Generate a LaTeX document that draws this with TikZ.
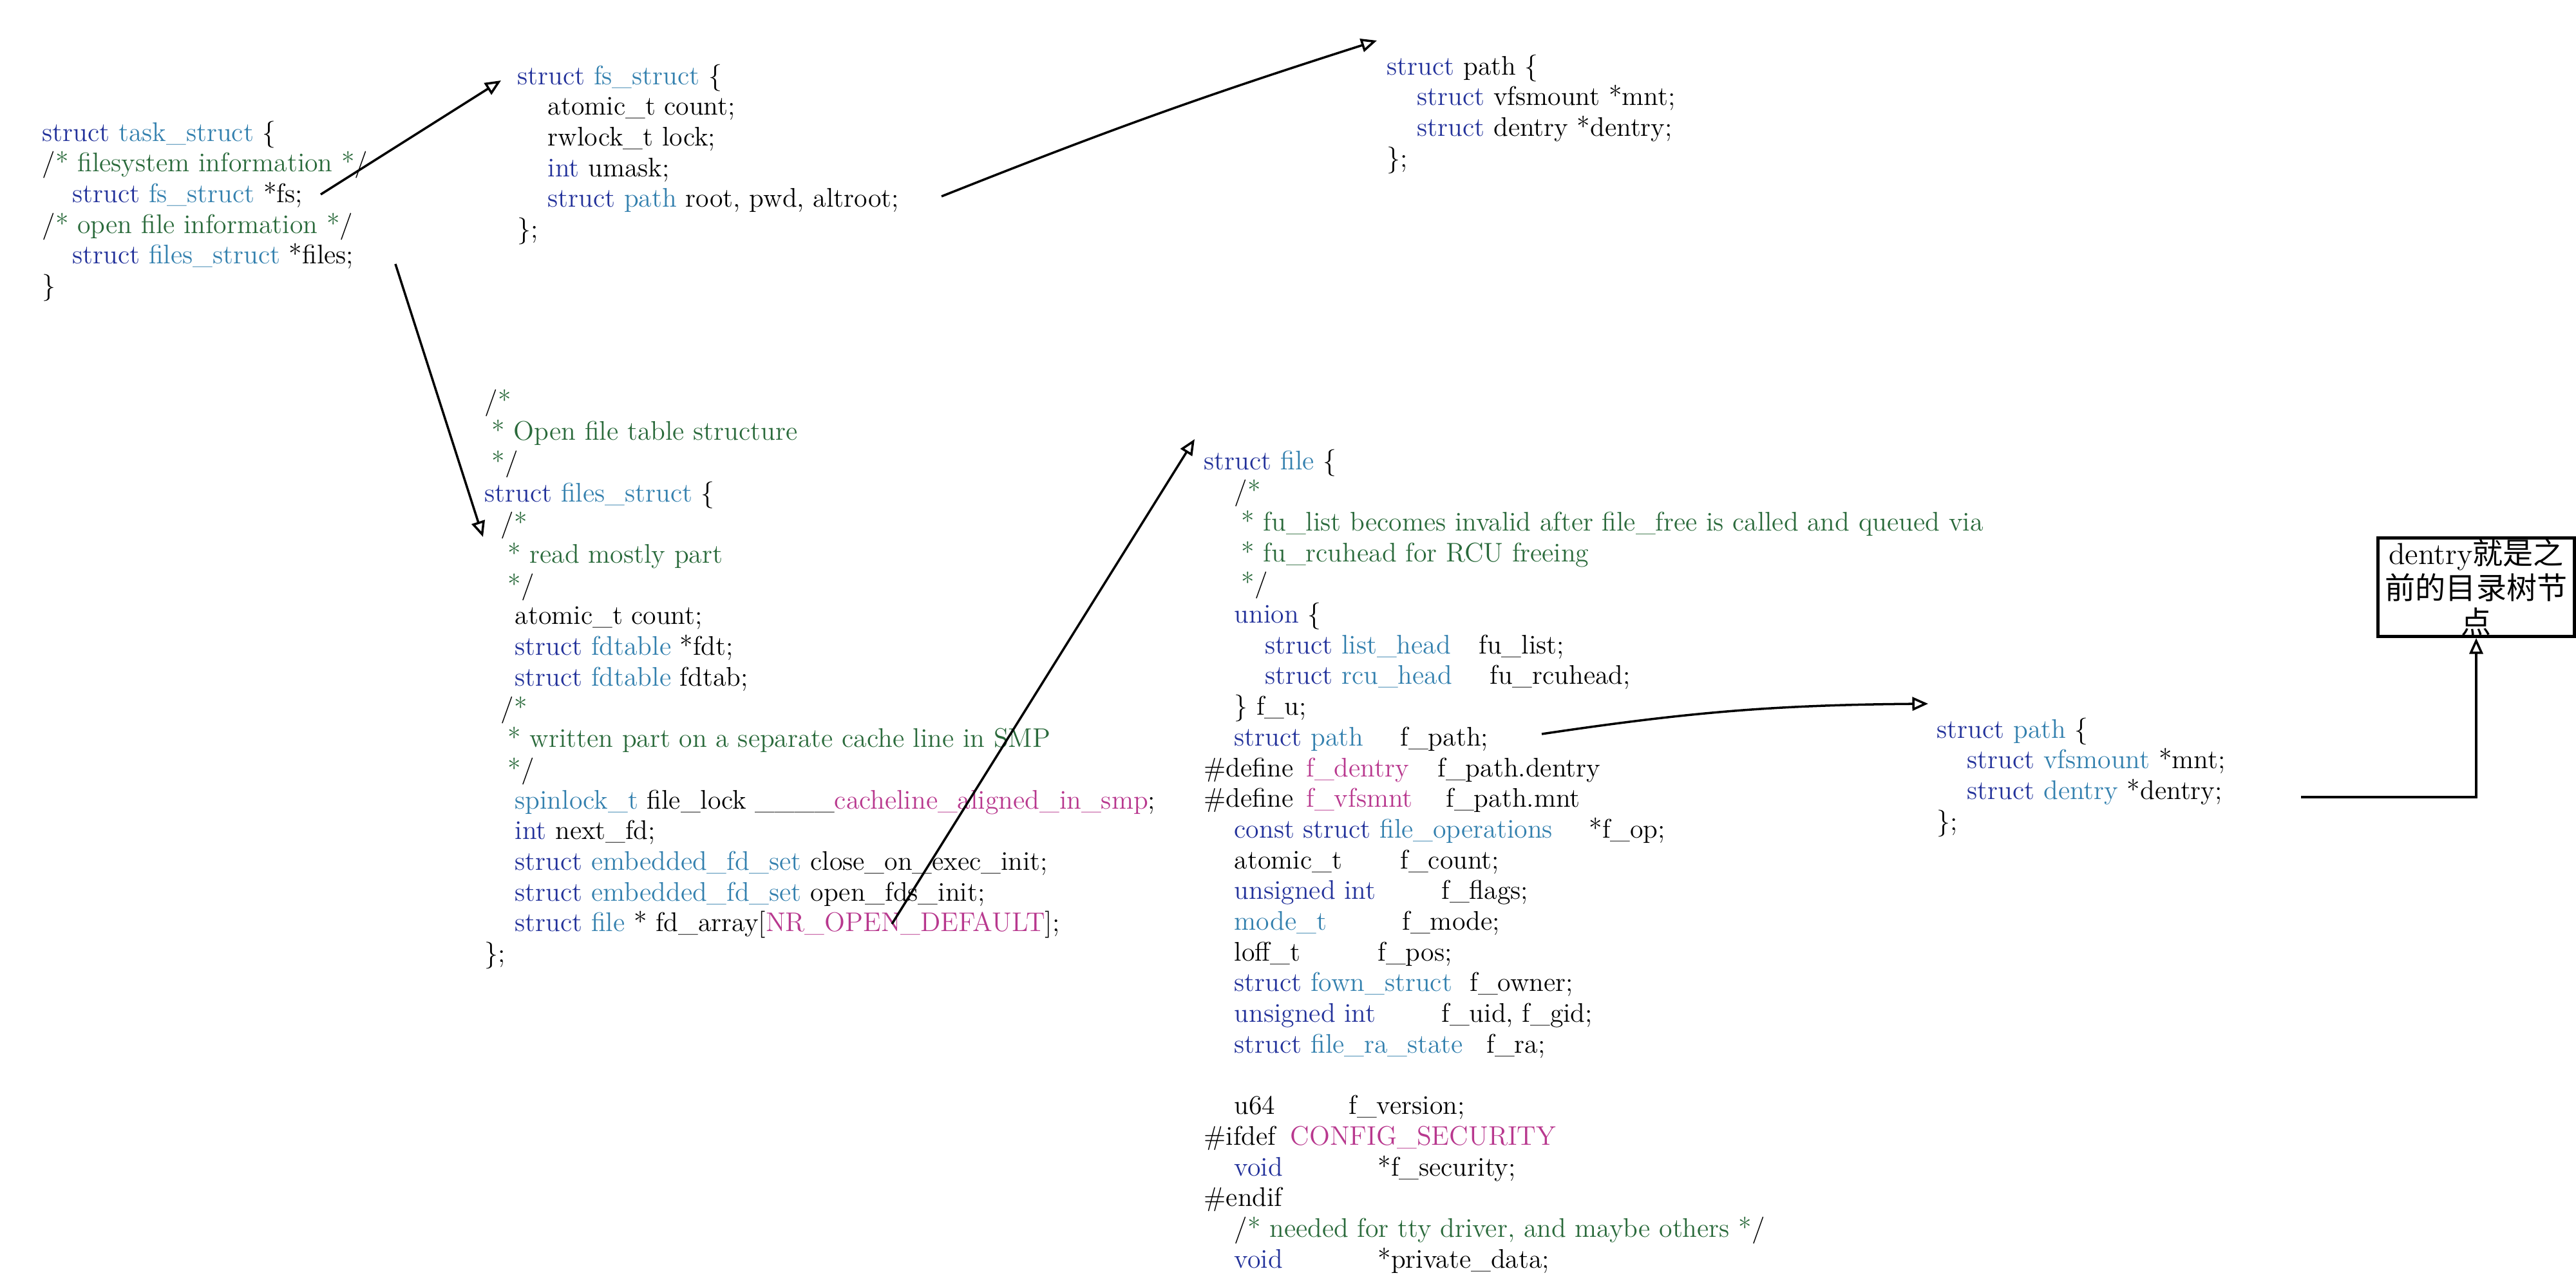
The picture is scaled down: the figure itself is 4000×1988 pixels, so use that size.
\documentclass[tikz,border=0pt]{standalone}
\usepackage{fontspec}
\usepackage{tikz}
\usetikzlibrary{arrows.meta,calc}
\newfontfamily\cjk{Noto Sans CJK SC}
\definecolor{kwblue}{HTML}{22319A}
\definecolor{tyblue}{HTML}{3380AE}
\definecolor{cmgreen}{HTML}{2A6A3B}
\definecolor{macpink}{HTML}{B8388E}
\newcommand{\ckw}[1]{\textcolor{kwblue}{#1}}
\newcommand{\cty}[1]{\textcolor{tyblue}{#1}}
\newcommand{\ccm}[1]{\textcolor{cmgreen}{#1}}
\newcommand{\cmac}[1]{\textcolor{macpink}{#1}}
\newcommand{\indA}{\hspace*{0.47cm}}
\newcommand{\indB}{\hspace*{0.95cm}}
\newcommand{\fcol}[2]{\makebox[#1][l]{#2}}

\begin{document}
\begin{tikzpicture}[x=0.1mm,y=-0.1mm,
    code/.style={anchor=north west,inner sep=0pt,align=left,font=\fontsize{11.9}{13.57}\selectfont},
    ptr/.style={-{Triangle[open,length=7pt,width=6pt]},line width=1pt},
    notebox/.style={draw,line width=1.4pt,inner sep=0pt,align=center,minimum width=3.05cm,minimum height=1.53cm,
      font=\cjk\fontsize{13.4}{15.2}\selectfont}]
    \useasboundingbox (0,0) rectangle (4000,1988);

    \node[code] (taskstruct) at (65,187) {\ckw{struct} \cty{task\_struct} \{\\
      /\ccm{* filesystem information *}/\\
      \indA\ckw{struct} \cty{fs\_struct} *fs;\\
      /\ccm{* open file information *}/\\
      \indA\ckw{struct} \cty{files\_struct} *files;\\
      \}};

    \node[code] (fsstruct) at (803,99) {\ckw{struct} \cty{fs\_struct} \{\\
      \indA atomic\_t count;\\
      \indA rwlock\_t lock;\\
      \indA\ckw{int} umask;\\
      \indA\ckw{struct} \cty{path} root, pwd, altroot;\\
      \};};

    \node[code] (pathtop) at (2153,84) {\ckw{struct} path \{\\
      \indA\ckw{struct} vfsmount *mnt;\\
      \indA\ckw{struct} dentry *dentry;\\
      \};};

    \node[code] (filesstruct) at (752,604) {/\ccm{*}\\
      \hspace*{0.11cm}\ccm{* Open file table structure}\\
      \hspace*{0.11cm}\ccm{*}/\\
      \ckw{struct} \cty{files\_struct} \{\\
      \hspace*{0.25cm}/\ccm{*}\\
      \hspace*{0.36cm}\ccm{* read mostly part}\\
      \hspace*{0.36cm}\ccm{*}/\\
      \indA atomic\_t count;\\
      \indA\ckw{struct} \cty{fdtable} *fdt;\\
      \indA\ckw{struct} \cty{fdtable} fdtab;\\
      \hspace*{0.25cm}/\ccm{*}\\
      \hspace*{0.36cm}\ccm{* written part on a separate cache line in SMP}\\
      \hspace*{0.36cm}\ccm{*}/\\
      \indA\cty{spinlock\_t} file\_lock \_\_\_\_\cmac{cacheline\_aligned\_in\_smp};\\
      \indA\ckw{int} next\_fd;\\
      \indA\ckw{struct} \cty{embedded\_fd\_set} close\_on\_exec\_init;\\
      \indA\ckw{struct} \cty{embedded\_fd\_set} open\_fds\_init;\\
      \indA\ckw{struct} \cty{file} * fd\_array[\cmac{NR\_OPEN\_DEFAULT}];\\
      \};};

    \node[code] (filestruct) at (1869,697) {\ckw{struct} \cty{file} \{\\
      \indA/\ccm{*}\\
      \hspace*{0.58cm}\ccm{* fu\_list becomes invalid after file\_free is called and queued via}\\
      \hspace*{0.58cm}\ccm{* fu\_rcuhead for RCU freeing}\\
      \hspace*{0.58cm}\ccm{*}/\\
      \indA\ckw{union} \{\\
      \indB\fcol{3.32cm}{\ckw{struct} \cty{list\_head}}fu\_list;\\
      \indB\fcol{3.49cm}{\ckw{struct} \cty{rcu\_head}}fu\_rcuhead;\\
      \indA\} f\_u;\\
      \indA\fcol{2.58cm}{\ckw{struct} \cty{path}}f\_path;\\
      \fcol{1.59cm}{\#define}\fcol{2.04cm}{\cmac{f\_dentry}}f\_path.dentry\\
      \fcol{1.59cm}{\#define}\fcol{2.17cm}{\cmac{f\_vfsmnt}}f\_path.mnt\\
      \indA\fcol{5.51cm}{\ckw{const struct} \cty{file\_operations}}*f\_op;\\
      \indA\fcol{2.58cm}{atomic\_t}f\_count;\\
      \indA\fcol{3.22cm}{\ckw{unsigned int}}f\_flags;\\
      \indA\fcol{2.61cm}{\cty{mode\_t}}f\_mode;\\
      \indA\fcol{2.23cm}{loff\_t}f\_pos;\\
      \indA\fcol{3.66cm}{\ckw{struct} \cty{fown\_struct}}f\_owner;\\
      \indA\fcol{3.22cm}{\ckw{unsigned int}}f\_uid, f\_gid;\\
      \indA\fcol{3.92cm}{\ckw{struct} \cty{file\_ra\_state}}f\_ra;\\
      ~\\
      \indA\fcol{1.78cm}{u64}f\_version;\\
      \fcol{1.34cm}{\#ifdef}\cmac{CONFIG\_SECURITY}\\
      \indA\fcol{2.23cm}{\ckw{void}}*f\_security;\\
      \#endif\\
      \indA/\ccm{* needed for tty driver, and maybe others *}/\\
      \indA\fcol{2.23cm}{\ckw{void}}*private\_data;};

    \node[code] (pathright) at (3007,1114) {\ckw{struct} \cty{path} \{\\
      \indA\ckw{struct} \cty{vfsmount} *mnt;\\
      \indA\ckw{struct} \cty{dentry} *dentry;\\
      \};};

    \node[notebox] (dentrynote) at (3845,912) {\textrm{dentry}就是之\\前的目录树节\\点};

    \coordinate (fsptr) at (498,302);
    \coordinate (filesptr) at (614,410);
    \coordinate (rootptr) at (1462,305);
    \coordinate (fdptr) at (1385,1435);
    \coordinate (fpathptr) at (2394,1140);
    \coordinate (dentryptr) at (3573,1238);

    \draw[ptr] (fsptr) -- ($(fsstruct.north west)+(-25,26)$);
    \draw[ptr] (filesptr) -- ($(filesstruct.north west)+(-2,230)$);
    \draw[ptr] (rootptr) to[bend left=2] ($(pathtop.north west)+(-15,-21)$);
    \draw[ptr] (fdptr) -- ($(filestruct.north west)+(-14,-15)$);
    \draw[ptr] (fpathptr) to[bend left=4] ($(pathright.north west)+(-13,-21)$);
    \draw[ptr] (dentryptr) -| (dentrynote.south);
\end{tikzpicture}
\end{document}
